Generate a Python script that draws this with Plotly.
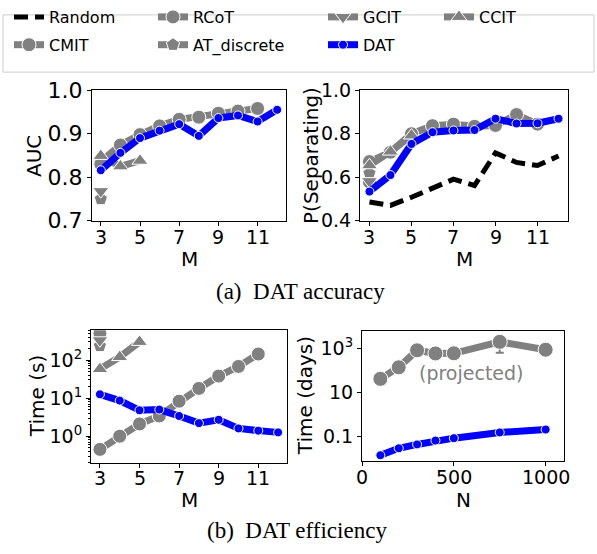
import plotly.graph_objects as go

W, H = 597, 554

# ---------------- data ----------------
M = [3, 4, 5, 6, 7, 8, 9, 10, 11, 12]
M_cmit = [3, 4, 5, 6, 7, 8, 9, 10, 11]
M_ccit = [3, 4, 5]
M_single = [3]

# AUC
auc_dat = [0.816, 0.856, 0.890, 0.907, 0.922, 0.895, 0.936, 0.942, 0.928, 0.955]
auc_cmit = [0.836, 0.874, 0.898, 0.918, 0.933, 0.938, 0.947, 0.952, 0.958]
auc_rcot = [0.830]
auc_at = [0.750]
auc_gcit = [0.768]
auc_ccit = [0.849, 0.825, 0.838]

# P(Separating)
ps_random = [0.486, 0.471, 0.508, 0.552, 0.591, 0.562, 0.712, 0.668, 0.654, 0.698]
ps_dat = [0.534, 0.610, 0.753, 0.807, 0.815, 0.817, 0.869, 0.847, 0.848, 0.869]
ps_cmit = [0.672, 0.715, 0.800, 0.837, 0.844, 0.834, 0.838, 0.888, 0.844]
ps_rcot = [0.578]
ps_at = [0.618]
ps_gcit = [0.582]
ps_ccit = [0.655, 0.718, 0.792]

# Time (s) vs M
t_dat = [12.6, 8.6, 4.8, 5.0, 3.4, 2.2, 2.7, 1.6, 1.4, 1.26]
t_cmit = [0.45, 1.0, 2.1, 3.4, 8.3, 18, 38, 68, 144]
t_rcot = [500]
t_gcit = [330]
t_at = [235]
t_ccit = [58, 120, 300]

# Time (days) vs N
N = [100, 200, 300, 400, 500, 750, 1000]
days_cmit = [41, 138, 820, 590, 600, 2000, 875]
days_cmit_err_minus = [0, 0, 0, 0, 0, 1370, 0]
days_dat = [0.0135, 0.028, 0.042, 0.063, 0.081, 0.148, 0.20]

# tick labels
auc_ticks = [0.7, 0.8, 0.9, 1.0]
ps_ticks = [0.4, 0.6, 0.8, 1.0]
m_ticks = [3, 5, 7, 9, 11]
ts_ticks = [1, 10, 100]
ts_ticktext = ["10<sup>0</sup>", "10<sup>1</sup>", "10<sup>2</sup>"]
td_ticks = [0.1, 10, 1000]
td_ticktext = ["0.1", "10", "10<sup>3</sup>"]
n_ticks = [0, 500, 1000]

# ---------------- styles ----------------
GREY = "#808080"
BLUE = "#0000ff"
FONT = "DejaVu Sans"

def px_x(x):
    return x / W

def px_y(y):
    return 1 - y / H

fig = go.Figure()

def grey_trace(x, y, sym, name, xa, ya, legend, show, rank, size=14, **kw):
    fig.add_trace(go.Scatter(
        x=x, y=y, mode="lines+markers", name=name, legendgroup=name,
        showlegend=show, legend=legend, legendrank=rank, xaxis=xa, yaxis=ya,
        line=dict(color=GREY, width=7),
        marker=dict(symbol=sym, size=size, color=GREY, line=dict(color="white", width=1)),
        **kw))

def dat_trace(x, y, xa, ya, show):
    fig.add_trace(go.Scatter(
        x=x, y=y, mode="lines+markers", name="DAT", legendgroup="DAT",
        showlegend=show, legend="legend3", legendrank=2, xaxis=xa, yaxis=ya,
        line=dict(color=BLUE, width=7),
        marker=dict(symbol="circle", size=9, color=BLUE, line=dict(color="white", width=1))))

# --- panel 1: AUC ---
grey_trace(M_cmit, auc_cmit, "circle", "CMIT", "x", "y", "legend", True, 2)
grey_trace(M_single, auc_rcot, "circle", "RCoT", "x", "y", "legend2", True, 1)
grey_trace(M_single, auc_at, "pentagon", "AT_discrete", "x", "y", "legend2", True, 2)
grey_trace(M_single, auc_gcit, "triangle-down", "GCIT", "x", "y", "legend3", True, 1)
grey_trace(M_ccit, auc_ccit, "triangle-up", "CCIT", "x", "y", "legend4", True, 1)
dat_trace(M, auc_dat, "x", "y", True)

# --- panel 2: P(Separating) ---
fig.add_trace(go.Scatter(
    x=M, y=ps_random, mode="lines", name="Random", legendgroup="Random",
    showlegend=True, legend="legend", legendrank=1, xaxis="x2", yaxis="y2",
    line=dict(color="black", width=5, dash="14px,7px")))
grey_trace(M_cmit, ps_cmit, "circle", "CMIT", "x2", "y2", "legend", False, 2)
grey_trace(M_single, ps_rcot, "circle", "RCoT", "x2", "y2", "legend2", False, 1)
grey_trace(M_single, ps_at, "pentagon", "AT_discrete", "x2", "y2", "legend2", False, 2)
grey_trace(M_single, ps_gcit, "triangle-down", "GCIT", "x2", "y2", "legend3", False, 1)
grey_trace(M_ccit, ps_ccit, "triangle-up", "CCIT", "x2", "y2", "legend4", False, 1)
dat_trace(M, ps_dat, "x2", "y2", False)

# --- panel 3: Time (s) ---
grey_trace(M_cmit, t_cmit, "circle", "CMIT", "x3", "y3", "legend", False, 2)
grey_trace(M_single, t_rcot, "circle", "RCoT", "x3", "y3", "legend2", False, 1)
grey_trace(M_single, t_at, "pentagon", "AT_discrete", "x3", "y3", "legend2", False, 2)
grey_trace(M_single, t_gcit, "triangle-down", "GCIT", "x3", "y3", "legend3", False, 1)
grey_trace(M_ccit, t_ccit, "triangle-up", "CCIT", "x3", "y3", "legend4", False, 1)
dat_trace(M, t_dat, "x3", "y3", False)

# --- panel 4: Time (days) ---
grey_trace(N, days_cmit, "circle", "CMIT", "x4", "y4", "legend", False, 2, size=15,
           error_y=dict(type="data", array=[0] * len(N), arrayminus=days_cmit_err_minus,
                        symmetric=False, color=GREY, thickness=2, width=4))
dat_trace(N, days_dat, "x4", "y4", False)

# ---------------- axes ----------------
def axis_common(size=19):
    return dict(showline=True, linecolor="black", linewidth=1, mirror=True,
                ticks="outside", ticklen=4, tickcolor="black", showgrid=False,
                zeroline=False, tickfont=dict(family=FONT, size=size, color="black"))
xnolab = dict(showticklabels=False)

def dom_x(a, b):
    return [px_x(a), px_x(b)]

def dom_y(top, bottom):
    return [px_y(bottom), px_y(top)]

ts_minor = [m * 10 ** k for k in (-1, 0, 1, 2) for m in range(2, 10)]

fig.update_layout(
    width=W, height=H, margin=dict(l=0, r=0, t=0, b=0),
    paper_bgcolor="white", plot_bgcolor="white",
    xaxis=dict(domain=dom_x(92, 286), range=[2.55, 12.45], tickvals=m_ticks, anchor="y", **xnolab, **axis_common()),
    yaxis=dict(domain=dom_y(81, 218), range=[0.7, 1.0], tickvals=auc_ticks, tickformat=".1f", anchor="x", **axis_common(22)),
    xaxis2=dict(domain=dom_x(360, 568), range=[2.55, 12.45], tickvals=m_ticks, anchor="y2", **xnolab, **axis_common()),
    yaxis2=dict(domain=dom_y(81, 218), range=[0.4, 1.0], tickvals=ps_ticks, tickformat=".1f", anchor="x2", **axis_common()),
    xaxis3=dict(domain=dom_x(91, 287), range=[2.55, 12.45], tickvals=m_ticks, anchor="y3", **xnolab, **axis_common()),
    yaxis3=dict(domain=dom_y(333, 472), type="log", range=[-0.7, 2.78], tickvals=ts_ticks,
                ticktext=ts_ticktext, anchor="x3",
                minor=dict(tickmode="array", tickvals=ts_minor, ticks="outside", ticklen=2, tickcolor="black"),
                **axis_common()),
    xaxis4=dict(domain=dom_x(362, 564), range=[0, 1100], tickvals=n_ticks, anchor="y4", **xnolab, **axis_common()),
    yaxis4=dict(domain=dom_y(334, 470), type="log", range=[-2.13, 3.78], tickvals=td_ticks,
                ticktext=td_ticktext, anchor="x4", **axis_common()),
)

leg_common = dict(orientation="v", bgcolor="rgba(0,0,0,0)", borderwidth=0,
                  font=dict(family=FONT, size=16, color="black"),
                  xanchor="left", yanchor="top", y=1 + 14 / H, tracegroupgap=4,
                  itemsizing="trace", traceorder="grouped")
fig.update_layout(
    legend=dict(x=px_x(9), **leg_common),
    legend2=dict(x=px_x(153), **leg_common),
    legend3=dict(x=px_x(323), **leg_common),
    legend4=dict(x=px_x(439), **leg_common),
)

# legend frame
fig.add_shape(type="rect", xref="paper", yref="paper",
              x0=px_x(3), x1=px_x(594), y0=px_y(62), y1=px_y(2),
              line=dict(color="#cccccc", width=1), fillcolor="rgba(0,0,0,0)", layer="below")

ann = []
def text(t, x, y, size=20, angle=0, color="black", family=FONT):
    ann.append(dict(text=t, x=px_x(x), y=px_y(y), xref="paper", yref="paper",
                    showarrow=False, textangle=angle, xanchor="center", yanchor="middle",
                    font=dict(family=family, size=size, color=color)))

def xtick_labels(vals, xref, ypix):
    for v in vals:
        ann.append(dict(text=str(v), x=v, y=px_y(ypix), xref=xref, yref="paper",
                        showarrow=False, xanchor="center", yanchor="middle",
                        font=dict(family=FONT, size=19, color="black")))

xtick_labels(m_ticks, "x", 235)
xtick_labels(m_ticks, "x2", 235)
xtick_labels(m_ticks, "x3", 488)
xtick_labels(n_ticks, "x4", 487)

text("AUC", 34, 150, angle=-90)
text("M", 189, 258)
text("P(Separating)", 311, 150, angle=-90)
text("M", 464, 258)
text("Time (s)", 37, 402, angle=-90)
text("M", 189, 511)
text("Time (days)", 305, 402, angle=-90)
text("N", 463, 511)
text("(projected)", 471, 378, size=19, color=GREY)
text("(a)&nbsp;&nbsp;DAT accuracy", 300, 292, size=23, family="Liberation Serif")
text("(b)&nbsp;&nbsp;DAT efficiency", 297, 543, size=23, family="Liberation Serif")
fig.update_layout(annotations=ann)

fig.write_html("out.html", config={"displayModeBar": False},
               post_script="document.body.style.margin='0';")
